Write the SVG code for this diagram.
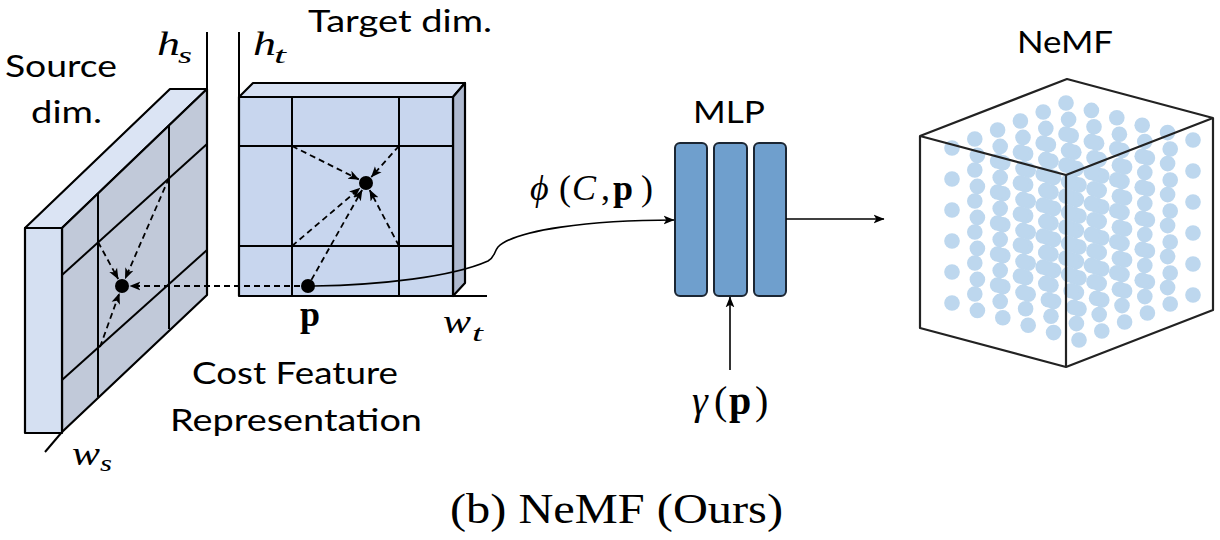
<svg xmlns="http://www.w3.org/2000/svg" xmlns:xlink="http://www.w3.org/1999/xlink" width="1220" height="540" viewBox="0 0 1220 540">
<defs>
<style>
.sans{font-family:Lato,"Open Sans","Liberation Sans",sans-serif;font-size:31px;fill:#000}
.mi{font-family:"Liberation Serif","DejaVu Serif",serif;font-style:italic;fill:#000}
.mr{font-family:"Liberation Serif","DejaVu Serif",serif;fill:#000}
.mb{font-family:"Liberation Serif","DejaVu Serif",serif;font-weight:bold;fill:#000}
.edge{stroke:#000;stroke-width:2.2;stroke-linejoin:round}
.grid{stroke:#000;stroke-width:2;fill:none}
.dash{stroke:#000;stroke-width:1.8;stroke-dasharray:6,4;fill:none;marker-end:url(#ah)}
.solid{stroke:#000;stroke-width:1.6;fill:none;marker-end:url(#ah)}
.layer{fill:#6f9fcd;stroke:#1b2633;stroke-width:2}
.dot{fill:#bdd7ee}
</style>
<marker id="ah" viewBox="0 0 10 10" refX="9.5" refY="5" markerWidth="11" markerHeight="11" markerUnits="userSpaceOnUse" orient="auto">
<path d="M0,1 L10,5 L0,9 L2.5,5 z" fill="#000"/>
</marker>
<g id="col">
<circle class="dot" cx="0" cy="0" r="7.8"/>
<circle class="dot" cx="0" cy="31" r="7.8"/>
<circle class="dot" cx="0" cy="62" r="7.8"/>
<circle class="dot" cx="0" cy="93" r="7.8"/>
<circle class="dot" cx="0" cy="124" r="7.8"/>
<circle class="dot" cx="0" cy="155" r="7.8"/>
</g>
<g id="row">
<use xlink:href="#col" x="0" y="0"/>
<use xlink:href="#col" x="-25.4" y="-7.4"/>
<use xlink:href="#col" x="-50.8" y="-14.8"/>
<use xlink:href="#col" x="-76.2" y="-22.2"/>
<use xlink:href="#col" x="-101.6" y="-29.6"/>
<use xlink:href="#col" x="-127" y="-37"/>
</g>
</defs>
<rect width="1220" height="540" fill="#fff"/>

<!-- Source cost volume -->
<g id="source">
<line class="grid" x1="207" y1="32" x2="207" y2="90"/>
<line class="grid" x1="62" y1="432" x2="45" y2="452"/>
<polygon class="edge" points="25,228 62,228 207,89 170,89" fill="#dbe4f4"/>
<polygon class="edge" points="62,228 207,89 207,295 62,432" fill="#c1c9d9"/>
<rect class="edge" x="25" y="228" width="37" height="205" fill="#d5e0f2"/>
<line class="grid" x1="98" y1="194" x2="98" y2="397"/>
<line class="grid" x1="169" y1="125" x2="169" y2="329"/>
<line class="grid" x1="62" y1="275" x2="207" y2="144"/>
<line class="grid" x1="62" y1="380" x2="207" y2="250"/>
<circle cx="122" cy="286" r="7" fill="#000"/>
</g>

<!-- Target cost volume -->
<g id="target">
<line class="grid" x1="239" y1="32" x2="239" y2="97"/>
<polygon class="edge" points="239,97 253,83 465,83 453,97" fill="#d6e0f2"/>
<polygon class="edge" points="453,97 465,83 465,283 453,296" fill="#aeb9cf"/>
<rect class="edge" x="239" y="97" width="214" height="199" fill="#c8d6ee"/>
<line class="grid" x1="292" y1="97" x2="292" y2="296"/>
<line class="grid" x1="399" y1="97" x2="399" y2="296"/>
<line class="grid" x1="239" y1="146" x2="453" y2="146"/>
<line class="grid" x1="239" y1="246" x2="453" y2="246"/>
<line class="grid" x1="239" y1="296" x2="487" y2="296"/>
<circle cx="366" cy="183" r="7" fill="#000"/>
<circle cx="308" cy="286" r="7" fill="#000"/>
</g>

<!-- MLP -->
<g id="mlp">
<rect class="layer" x="675" y="143" width="32" height="153" rx="5"/>
<rect class="layer" x="714" y="143" width="33" height="153" rx="5"/>
<rect class="layer" x="754" y="143" width="32" height="153" rx="5"/>
</g>

<!-- NeMF cube -->
<g id="nemf">
<use xlink:href="#row" x="1079" y="185"/>
<use xlink:href="#row" x="1101.8" y="176"/>
<use xlink:href="#row" x="1124.6" y="167"/>
<use xlink:href="#row" x="1147.4" y="158"/>
<use xlink:href="#row" x="1170.2" y="149"/>
<use xlink:href="#row" x="1193" y="140"/>
<polygon points="1067,79 1213,118 1213,310 1066,367 920,328 920,136" fill="none" stroke="#222" stroke-width="2.2" stroke-linejoin="round"/>
<polyline points="920,136 1066,175 1213,118" fill="none" stroke="#222" stroke-width="2.2" stroke-linejoin="round"/>
<line x1="1066" y1="175" x2="1066" y2="367" stroke="#222" stroke-width="2.2"/>
</g>

<!-- Connectors -->
<g id="connectors">
<line class="dash" x1="98" y1="242" x2="118.2" y2="279"/>
<line class="dash" x1="169" y1="178" x2="125.2" y2="278.7"/>
<line class="dash" x1="100" y1="347" x2="119.3" y2="293.5"/>
<line class="dash" x1="300" y1="286" x2="130" y2="286"/>
<line class="dash" x1="292" y1="146" x2="358.8" y2="179.4"/>
<line class="dash" x1="399" y1="146" x2="371.3" y2="177"/>
<line class="dash" x1="292" y1="246" x2="359.9" y2="188.2"/>
<line class="dash" x1="399" y1="246" x2="369.7" y2="190.1"/>
<line class="dash" x1="311.4" y1="279.9" x2="362.1" y2="190"/>
<path class="solid" d="M314,286 C380,285 452,277 488,261 C495,257 494,252 498,247 C515,230 590,220 674,220"/>
<line class="solid" x1="786" y1="219" x2="884" y2="219"/>
<line class="solid" x1="730" y1="370" x2="730" y2="297"/>
</g>

<!-- Labels -->
<g id="labels">
<text class="sans" x="5" y="77" textLength="112" lengthAdjust="spacingAndGlyphs">Source</text>
<text class="sans" x="31" y="123" textLength="71" lengthAdjust="spacingAndGlyphs">dim.</text>
<text class="sans" x="308" y="32" textLength="184" lengthAdjust="spacingAndGlyphs">Target dim.</text>
<text class="sans" x="192" y="384" textLength="206" lengthAdjust="spacingAndGlyphs">Cost Feature</text>
<text class="sans" x="170" y="431" textLength="252" lengthAdjust="spacingAndGlyphs">Representation</text>
<text class="sans" x="693" y="123" textLength="72" lengthAdjust="spacingAndGlyphs">MLP</text>
<text class="sans" x="1017" y="53" textLength="96" lengthAdjust="spacingAndGlyphs">NeMF</text>

<text class="mi" x="157" y="55" font-size="34" textLength="23" lengthAdjust="spacingAndGlyphs">h</text>
<text class="mi" x="178" y="63" font-size="24" textLength="14" lengthAdjust="spacingAndGlyphs">s</text>
<text class="mi" x="253" y="55" font-size="34" textLength="23" lengthAdjust="spacingAndGlyphs">h</text>
<text class="mi" x="274" y="63" font-size="24" textLength="12" lengthAdjust="spacingAndGlyphs">t</text>
<text class="mi" x="443" y="333" font-size="34" textLength="28" lengthAdjust="spacingAndGlyphs">w</text>
<text class="mi" x="472" y="341" font-size="24" textLength="11" lengthAdjust="spacingAndGlyphs">t</text>
<text class="mi" x="72" y="465" font-size="34" textLength="28" lengthAdjust="spacingAndGlyphs">w</text>
<text class="mi" x="100" y="471" font-size="24" textLength="12" lengthAdjust="spacingAndGlyphs">s</text>
<text class="mb" x="300" y="326" font-size="35" textLength="20" lengthAdjust="spacingAndGlyphs">p</text>

<text y="200" font-size="36"><tspan class="mi" x="530">ϕ</tspan><tspan class="mr" x="559">(</tspan><tspan class="mi" x="572">C</tspan><tspan class="mr" x="601">,</tspan><tspan class="mb" x="613">p</tspan><tspan class="mr" x="641">)</tspan></text>
<text y="414" font-size="40"><tspan class="mi" x="692">γ</tspan><tspan class="mr" x="714">(</tspan><tspan class="mb" x="729">p</tspan><tspan class="mr" x="755">)</tspan></text>

<text class="mr" x="450" y="523" font-size="42" textLength="333" lengthAdjust="spacingAndGlyphs">(b) NeMF (Ours)</text>
</g>
</svg>
